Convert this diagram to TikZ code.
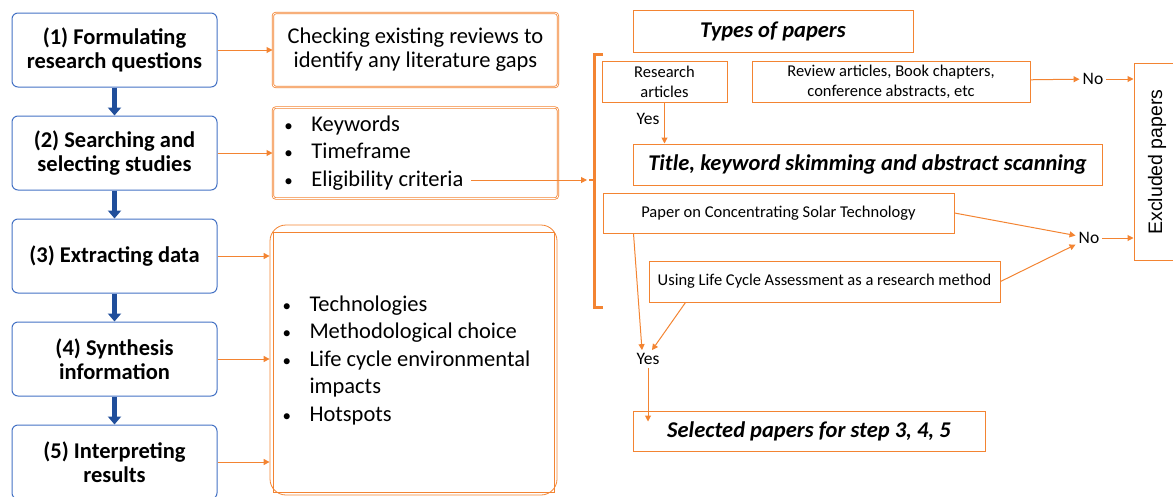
\documentclass[tikz,border=0pt]{standalone}
\usepackage{fontspec}
\setmainfont{Carlito}
\newfontfamily\exclfont{Liberation Sans}
\usetikzlibrary{arrows.meta, positioning}

\definecolor{boxblue}{RGB}{68,114,196}
\definecolor{arrowblue}{RGB}{32,78,155}
\definecolor{orng}{RGB}{243,132,50}

\newcommand{\bitem}[1]{\makebox[27pt][l]{\fontsize{17}{17}\selectfont\textbullet}#1}
\newcommand{\bcont}[1]{\makebox[27pt][l]{}#1}

\begin{document}
\begin{tikzpicture}[x=1pt, y=-1pt,
    node distance=28pt and 55pt,
    stepbox/.style={draw=boxblue, line width=1pt, rectangle, rounded corners=6pt, minimum width=205pt, minimum height=74pt, align=center, font=\fontsize{22.5}{24}\selectfont\bfseries},
    listbox/.style={draw=orng, double=white, double distance=0.7pt, line width=0.8pt, rectangle, rounded corners=3pt, minimum width=285pt, align=flush left, font=\fontsize{22.5}{27.5}\selectfont},
    paperbox/.style={draw=orng, line width=1pt, rectangle, align=center, inner sep=2pt, minimum height=41pt, font=\fontsize{16.5}{20}\selectfont},
    headbox/.style={paperbox, font=\fontsize{22.5}{24}\selectfont\bfseries\itshape},
    arrow/.style={-{Triangle[length=8pt,width=13pt]}, line width=4.5pt, draw=arrowblue},
    oarrow/.style={-{Triangle[length=6pt,width=6pt]}, line width=1pt, draw=orng},
    label/.style={inner sep=3pt, font=\fontsize{17.5}{20}\selectfont}
]
\useasboundingbox (0,0) rectangle (1173,496);

% Steps
\node[stepbox] (s1) at (114.5,50) {(1) Formulating \\ research questions};
\node[stepbox, below=of s1] (s2) {(2) Searching and \\ selecting studies};
\node[stepbox, below=of s2] (s3) {(3) Extracting data};
\node[stepbox, below=of s3] (s4) {(4) Synthesis \\ information};
\node[stepbox, below=of s4] (s5) {(5) Interpreting \\ results};

\foreach \i/\j in {s1/s2, s2/s3, s3/s4, s4/s5}
    \draw[arrow] (\i) -- (\j);

% Middle column
\node[listbox, minimum height=74pt, align=center, font=\fontsize{22.5}{24}\selectfont, right=of s1] (gaps) {Checking existing reviews to \\ identify any literature gaps};
\node[listbox, minimum height=91pt, text width=262pt, right=of s2] (criteria) {\bitem{Keywords} \\ \bitem{Timeframe} \\ \bitem{Eligibility criteria}};
\node[draw=orng, line width=0.8pt, rounded corners=16pt, minimum width=287pt, minimum height=270pt, text width=262pt, align=flush left, font=\fontsize{22.5}{27.5}\selectfont] (aspects) at (413.5,360) {\bitem{Technologies} \\ \bitem{Methodological choice} \\ \bitem{Life cycle environmental} \\ \bcont{impacts} \\ \bitem{Hotspots}};
\draw[orng, line width=0.8pt] ([xshift=4pt,yshift=-8pt]aspects.north west) rectangle ([xshift=-3pt,yshift=3pt]aspects.south east);

\draw[oarrow] (s1) -- (gaps);
\draw[oarrow] (s2) -- (criteria);
\foreach \i in {s3, s4, s5}
    \draw[oarrow] (\i.east) -- (\i.east -| aspects.west);

% Bracket
\coordinate (elig) at (471,180);
\coordinate (brk) at (587,180);
\draw[orng, line width=3pt] (603,54) -- (594,54) -- (594,307) -- (603,307);
\draw[orng, line width=2pt] (594,180) -- (589,180);
\draw[oarrow] (elig) -- (brk);

% Screening
\node[headbox, minimum width=280pt, minimum height=42pt] (types) at (773,31) {Types of papers};
\node[paperbox, minimum width=125pt] (research) at (664.5,81.5) {Research \\ articles};
\node[paperbox, minimum width=278pt] (review) at (891,81.5) {Review articles, Book chapters, \\ conference abstracts, etc};
\node[label] (no1) at (1093,79) {No};
\node[draw=orng, line width=1pt, rotate=90, minimum width=197pt, minimum height=46pt, font=\exclfont\fontsize{19.5}{22}\selectfont] (excl) at (1157,162) {Excluded papers};
\node[label] (yes1) at (648,119) {Yes};
\node[headbox, minimum width=469pt] (title) at (867.5,164.5) {Title, keyword skimming and abstract scanning};
\node[paperbox, minimum width=351pt, minimum height=40pt] (solar) at (778.5,213) {Paper on Concentrating Solar Technology};
\node[label] (no2) at (1089,238) {No};
\node[paperbox, minimum width=351pt] (lca) at (824.5,281.5) {Using Life Cycle Assessment as a research method};
\node[label] (yes2) at (648,359) {Yes};
\node[headbox, minimum width=352pt, minimum height=40pt] (sel) at (809,431) {Selected papers for step 3, 4, 5};

\draw[oarrow] (research) -- (research |- title.north);
\draw[oarrow] (review) -- (no1);
\draw[oarrow] (no1) -- (no1 -| excl.north);
\draw[oarrow] (solar.east) -- (no2);
\draw[oarrow] (lca.east) -- (no2);
\draw[oarrow] (no2) -- (no2 -| excl.north);
\draw[oarrow] ([xshift=31pt]solar.south west) -- ([xshift=-6pt]yes2.north);
\draw[oarrow] ([xshift=37pt]lca.south west) -- ([xshift=4pt]yes2.north);
\draw[oarrow] (yes2) -- ([yshift=-11pt]yes2 |- sel.north);

\end{tikzpicture}
\end{document}
